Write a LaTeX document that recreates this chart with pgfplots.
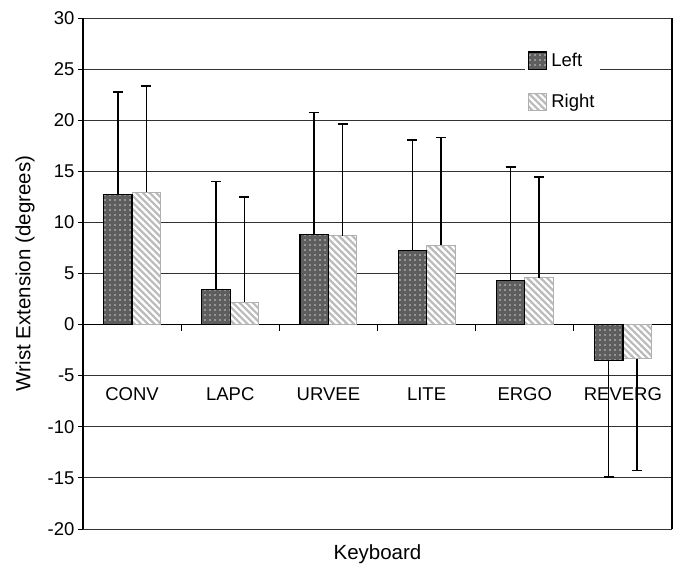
\documentclass[border=0pt]{standalone}
\usepackage{fontspec}
\setmainfont{Liberation Sans}
\usepackage{pgfplots}
\pgfplotsset{compat=1.18}
\usepackage{pgfplotstable}
\usetikzlibrary{patterns.meta}

\definecolor{darkbar}{HTML}{5E5E5E}
\definecolor{dotcol}{HTML}{CFCFCF}
\definecolor{lightbar}{HTML}{BBBBBB}
\definecolor{lightedge}{HTML}{B0B0B0}
\definecolor{gridcol}{HTML}{333333}

% positive bars: value and top of error bar
\pgfplotstableread{
x y top
0 12.75 22.74
1 3.46 14.00
2 8.82 20.75
3 7.25 18.04
4 4.34 15.40
}\leftpos
\pgfplotstableread{
x y top
0 12.97 23.33
1 2.19 12.50
2 8.70 19.64
3 7.75 18.30
4 4.60 14.45
}\rightpos
% negative bars: value and bottom of error bar
\pgfplotstableread{
x y bot
5 -3.50 -14.95
}\leftneg
\pgfplotstableread{
x y bot
5 -3.33 -14.28
}\rightneg

\begin{document}
\begin{tikzpicture}
\useasboundingbox (-83bp,-36bp) rectangle (600bp,529bp);
\begin{axis}[
  at={(0,0)}, anchor=south west,
  scale only axis, width=589bp, height=511bp,
  xmin=-0.5, xmax=5.5, ymin=-20, ymax=30,
  axis x line*=middle, axis y line*=box,
  axis line style={black, line width=1.2bp},
  ytick={-20,-15,...,30},
  ytick pos=left, ytick align=outside,
  major tick length=5bp,
  xtick={0,...,5},
  xticklabels={CONV,LAPC,URVEE,LITE,ERGO,REVERG},
  minor xtick={0.5,1.5,2.5,3.5,4.5},
  minor tick length=6bp,
  xtick align=outside,
  major x tick style={draw=none},
  minor x tick style={black, line width=1bp},
  tick style={black, line width=1bp},
  ymajorgrids,
  major grid style={gridcol, line width=1bp},
  /pgf/number format/assume math mode=true,
  tick label style={font=\fontsize{18.5bp}{22bp}\selectfont, text=black},
  xticklabel style={anchor=center, yshift=-65bp},
  label style={font=\fontsize{20.5bp}{24bp}\selectfont},
  xlabel={Keyboard},
  xlabel style={at={(axis description cs:0.5,0)}, anchor=center, yshift=-25bp},
  ylabel={Wrist Extension (degrees)},
  ylabel style={at={(axis description cs:-0.0985,0.5)}, anchor=center},
  legend style={at={(axis description cs:0.7504,0.942)}, anchor=north west,
    draw=none, fill=white, font=\fontsize{18.5bp}{22bp}\selectfont,
    row sep=21.75bp, inner sep=3bp, column sep=2bp},
  legend cell align=left,
  reverse legend,
  leftbar/.style={ybar, bar width=0.29, bar shift=-0.145, draw=black, line width=1.2bp,
    fill=darkbar, postaction={pattern={Dots[distance=5bp, radius=0.8bp]}, pattern color=dotcol},
    legend image code/.code={\draw[##1] (0bp,-9.25bp) rectangle (18bp,8.25bp);}},
  rightbar/.style={ybar, bar width=0.29, bar shift=0.145, draw=lightedge, line width=1bp,
    fill=lightbar, postaction={pattern={Lines[angle=-45, distance=4.7bp, line width=2.2bp]}, pattern color=white},
    legend image code/.code={\draw[##1] (0bp,-9.25bp) rectangle (18bp,8.25bp);}},
  errplot/.style={draw=none, mark=none, forget plot,
    error bars/y explicit, error bars/error mark=|,
    error bars/error bar style={draw=black, line width=1.6bp, solid},
    error bars/error mark options={draw=black, line width=1.8bp, mark size=5bp}},
]
% bars
\addplot[rightbar] table[x=x, y=y] {\rightpos};
\addlegendentry{Right}
\addplot[leftbar] table[x=x, y=y] {\leftpos};
\addlegendentry{Left}
\addplot[rightbar, forget plot] table[x=x, y=y] {\rightneg};
\addplot[leftbar, forget plot] table[x=x, y=y] {\leftneg};
% error bars (at the centre of each bar)
\addplot[errplot, error bars/y dir=plus]
  table[x expr=\thisrow{x}-0.145, y=y, y error expr=\thisrow{top}-\thisrow{y}] {\leftpos};
\addplot[errplot, error bars/y dir=plus]
  table[x expr=\thisrow{x}+0.145, y=y, y error expr=\thisrow{top}-\thisrow{y}] {\rightpos};
\addplot[errplot, error bars/y dir=minus]
  table[x expr=\thisrow{x}-0.145, y=y, y error expr=\thisrow{y}-\thisrow{bot}] {\leftneg};
\addplot[errplot, error bars/y dir=minus]
  table[x expr=\thisrow{x}+0.145, y=y, y error expr=\thisrow{y}-\thisrow{bot}] {\rightneg};
\end{axis}
\end{tikzpicture}
\end{document}
